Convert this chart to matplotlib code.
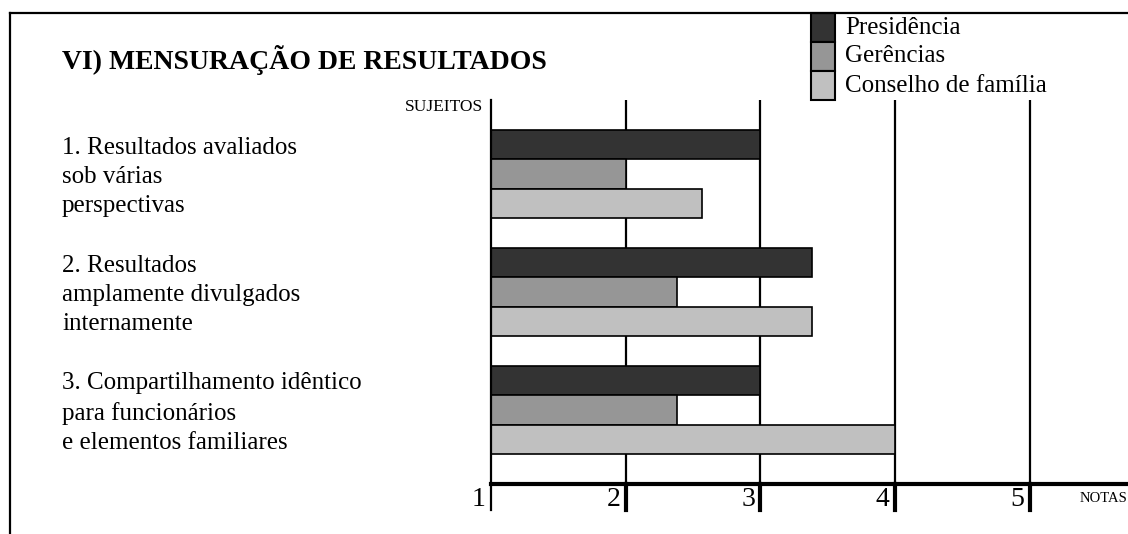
import matplotlib.pyplot as plt
from matplotlib.lines import Line2D
from matplotlib.patches import Rectangle
import numpy as np

plt.rcParams['font.family'] = ['Liberation Serif', 'DejaVu Serif']

# dados
grupos = ['Presidência', 'Gerências', 'Conselho de família']
cores = ['#333333', '#969696', '#c0c0c0']
itens = ['1. Resultados avaliados\nsob várias\nperspectivas',
         '2. Resultados\namplamente divulgados\ninternamente',
         '3. Compartilhamento idêntico\npara funcionários\ne elementos familiares']
presidencia = [3.0, 3.38, 3.0]
gerencias = [2.0, 2.38, 2.38]
conselho = [2.57, 3.38, 4.0]
notas = [1, 2, 3, 4, 5]

W, H = 1128, 534
fig = plt.figure(figsize=(W / 100, H / 100), dpi=100)

def fx(x):
    return x / W

def fy(y):
    return 1 - y / H

ax = fig.add_axes([fx(491), fy(484), 1 - fx(491), fy(100) - fy(484)])
ax.set_xlim(1, 1 + (W - 491) / 134.7)
ax.set_ylim(0, 13)
ax.axis('off')

# linhas verticais de grade
for n in notas[1:]:
    ax.plot([n, n], [0, 13], color='black', lw=1.6, zorder=1)
    ax.plot([n, n], [0, -0.88], color='black', lw=3, zorder=3, clip_on=False)
ax.plot([1, 1], [-0.88, 13], color='black', lw=1.6, zorder=3, clip_on=False)
ax.plot([1, ax.get_xlim()[1]], [0, 0], color='black', lw=3, zorder=3, clip_on=False)

# barras
series = [presidencia, gerencias, conselho]
for j, vals in enumerate(series):
    for g, v in enumerate(vals):
        topo = 13 - (1 + g * 4 + j)
        ax.barh(topo - 0.5, v - 1, left=1, height=1, color=cores[j],
                edgecolor='black', linewidth=1.2, zorder=2)

# rótulos das notas
for n in notas:
    ax.text(n - 0.04, -0.52, str(n), ha='right', va='center', fontsize=20)
fig.text(fx(1127), fy(498), 'NOTAS', ha='right', va='center', fontsize=10.5)
ax.text(0.94, 12.75, 'SUJEITOS', ha='right', va='center', fontsize=12.5)

# itens
for g, txt in enumerate(itens):
    yc = 13 - (1 + g * 4) - 1.5
    ypix = ax.transData.transform((0, yc))[1] - 3
    ax.text(fx(62), ypix / H, txt,
            transform=fig.transFigure, ha='left', va='center',
            fontsize=18, linespacing=1.42)

fig.text(fx(62), fy(60), 'VI) MENSURAÇÃO DE RESULTADOS', ha='left', va='center',
         fontsize=20, fontweight='bold')

# legenda
for j, nome in enumerate(grupos):
    y0 = 13 + j * 29
    fig.add_artist(Rectangle((fx(811), fy(y0 + 29)), fx(24), 29 / H,
                             facecolor=cores[j], edgecolor='black', lw=1.5,
                             transform=fig.transFigure))
    fig.text(fx(845), fy(y0 + 14.5), nome, ha='left', va='center', fontsize=18)

# moldura
fig.add_artist(Line2D([fx(10), fx(10)], [fy(13), 0], color='black', lw=1.6))
fig.add_artist(Line2D([fx(10), 1], [fy(13), fy(13)], color='black', lw=1.6))

fig.savefig('out.png', dpi=100)
